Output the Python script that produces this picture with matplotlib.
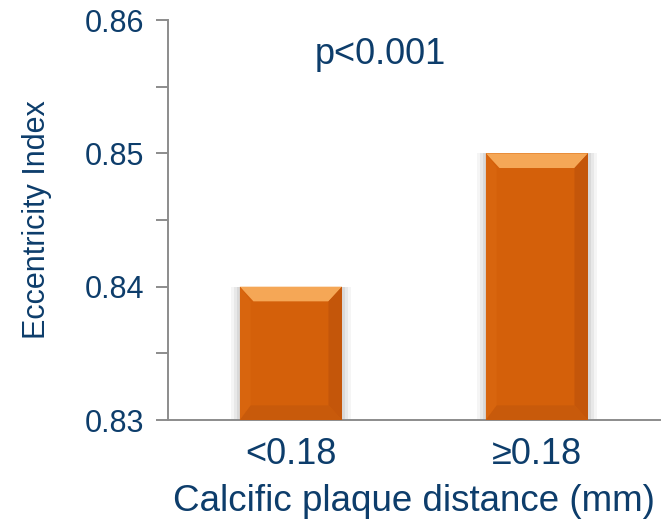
import matplotlib.pyplot as plt
from matplotlib.patches import Polygon
from matplotlib.ticker import MultipleLocator

# Mean eccentricity index per group
groups = ["<0.18", "\u22650.18"]
eccentricity = [0.840, 0.850]
p_text = "p<0.001"

text_col = "#0d3d6b"
axis_col = "#8c8c8c"
face = "#d4600a"
top_face = "#f5a756"
right_face = "#c4560a"
left_face = "#d8650e"
bottom_face = "#c85a0b"

plt.rcParams['font.family'] = ['Liberation Sans', 'DejaVu Sans']

fig = plt.figure(figsize=(6.7, 5.2), dpi=100)
ax = fig.add_axes([0.2507, 0.1923, 0.7343, 0.7692])

base = 0.83
width = 0.415
x = list(range(len(groups)))

ax.set_xlim(-0.5, 1.5)
ax.set_ylim(0.83, 0.86)

# soft shadow behind each bar
for xi, v in zip(x, eccentricity):
    for k, a in [(0.035, 0.06), (0.024, 0.08), (0.012, 0.10)]:
        ax.bar(xi, v - base, width + 2 * k, bottom=base, color="#555555",
               alpha=a, linewidth=0, zorder=2)

bars = ax.bar(x, [v - base for v in eccentricity], width, bottom=base,
              color=face, linewidth=0, zorder=3)

# bevelled edges on each bar
bx = 0.055
by = 0.0011
for b in bars:
    x0 = b.get_x()
    x1 = x0 + b.get_width()
    y0 = b.get_y()
    y1 = y0 + b.get_height()
    ax.add_patch(Polygon([(x0, y1), (x1, y1), (x1 - bx, y1 - by), (x0 + bx, y1 - by)],
                         closed=True, color=top_face, linewidth=0, zorder=4))
    ax.add_patch(Polygon([(x1, y1), (x1, y0), (x1 - bx, y0 + by), (x1 - bx, y1 - by)],
                         closed=True, color=right_face, linewidth=0, zorder=4))
    ax.add_patch(Polygon([(x0, y1), (x0, y0), (x0 + bx * 0.8, y0 + by), (x0 + bx * 0.8, y1 - by)],
                         closed=True, color=left_face, linewidth=0, zorder=4))
    ax.add_patch(Polygon([(x0, y0), (x1, y0), (x1 - bx, y0 + by), (x0 + bx * 0.8, y0 + by)],
                         closed=True, color=bottom_face, linewidth=0, zorder=4))

ax.spines['top'].set_visible(False)
ax.spines['right'].set_visible(False)
ax.spines['left'].set_color(axis_col)
ax.spines['bottom'].set_color(axis_col)
ax.spines['left'].set_linewidth(1.4)
ax.spines['bottom'].set_linewidth(1.4)

ax.yaxis.set_minor_locator(MultipleLocator(0.005))
ax.set_yticks([0.83, 0.84, 0.85, 0.86])
ax.set_yticklabels(["0.83", "0.84", "0.85", "0.86"])
ax.tick_params(axis='y', which='both', direction='out', length=9, width=1.4,
               color=axis_col, labelcolor=text_col, labelsize=22, pad=8)
ax.set_xticks(x)
ax.set_xticklabels(groups)
ax.tick_params(axis='x', length=0, labelcolor=text_col, labelsize=26, pad=12)

ax.set_ylabel("Eccentricity Index", color=text_col, fontsize=22, labelpad=24)
ax.set_xlabel("Calcific plaque distance (mm)", color=text_col, fontsize=26.5, labelpad=9)

ax.text(0.362, 0.8574, p_text, ha='center', va='center', color=text_col, fontsize=26)

fig.savefig("out.png", dpi=100)
